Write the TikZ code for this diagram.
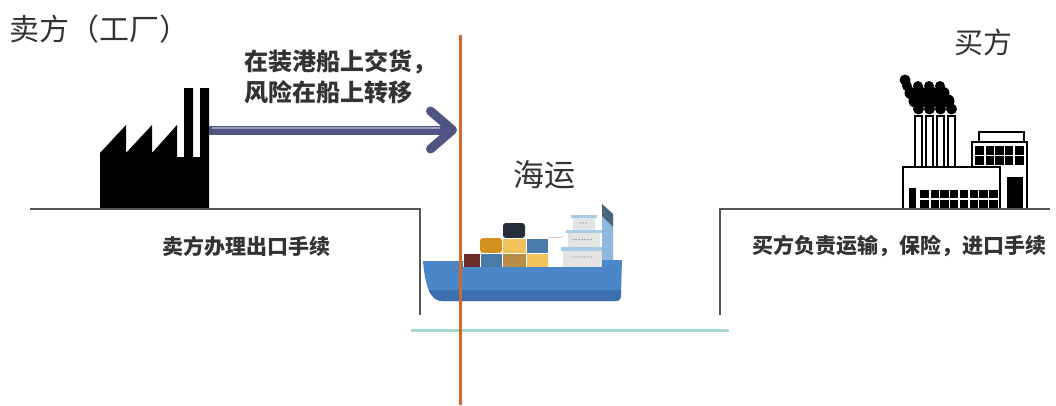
\documentclass[tikz,border=0pt]{standalone}
\usepackage{fontspec}
\newfontfamily\cjk{Noto Sans CJK SC}
\usetikzlibrary{arrows.meta}

\definecolor{inkgray}{HTML}{333333}
\definecolor{groundgray}{HTML}{555555}
\definecolor{riskline}{HTML}{D2692A}
\definecolor{waterline}{HTML}{A6D8D6}
\definecolor{arrowblue}{HTML}{4F5482}
\definecolor{arrowhi}{HTML}{9A9EC2}
\definecolor{hullblue}{HTML}{4A86C8}
\definecolor{hulldark}{HTML}{3D6EAD}
\definecolor{crateRed}{HTML}{6B2E2A}
\definecolor{crateBlue}{HTML}{4A7BA8}
\definecolor{crateTan}{HTML}{B88C46}
\definecolor{crateYellow}{HTML}{F0C35A}
\definecolor{crateOrange}{HTML}{D4901E}
\definecolor{crateNavy}{HTML}{262D3A}
\definecolor{deckgray}{HTML}{E4E4E4}
\definecolor{decklight}{HTML}{A9CCE6}
\definecolor{mastblue}{HTML}{8DB9DF}
\definecolor{mastcap}{HTML}{4A6478}

\tikzset{
  label/.style={inner sep=0pt, text=inkgray},
  crate/.style={draw=white, line width=0.6pt},
  building/.style={draw=black, fill=white, line width=1.8pt},
}

\begin{document}
\begin{tikzpicture}[x=1pt, y=-1pt]
  \useasboundingbox (0,0) rectangle (1056,405);

  % titles and notes
  \node[label, anchor=west, font=\cjk\fontsize{30}{30}\selectfont] (seller) at (9,29) {卖方（工厂）};
  \node[label, font=\cjk\fontsize{29}{29}\selectfont] (buyer) at (983,42) {买方};
  \node[label, anchor=west, align=left, font=\cjk\bfseries\fontsize{24}{31}\selectfont] (fobnote) at (244,77)
       {在装港船上交货，\\风险在船上转移};
  \node[label, font=\cjk\fontsize{31}{31}\selectfont] (sea) at (544,175) {海运};
  \node[label, anchor=west, font=\cjk\bfseries\fontsize{21}{21}\selectfont] (export) at (162,246) {卖方办理出口手续};
  \node[label, anchor=west, font=\cjk\bfseries\fontsize{21}{21}\selectfont] (import) at (752,246) {买方负责运输，保险，进口手续};

  % seller's factory
  \fill[black] (100,209) -- (100,153) -- (126,125) -- (126,153) -- (152,125) -- (152,153)
       -- (177,125) -- (177,157) -- (184,157) -- (184,88) -- (193,88) -- (193,157)
       -- (200,157) -- (200,88) -- (209,88) -- (209,209) -- cycle;

  % buyer's factory
  \foreach \x in {915,926,937,948} {
    \fill[black] (\x+3.5,109) circle (5.5);
    \fill[black] (\x,101) circle (6.5);
    \fill[black] (\x-4.5,93) circle (6);
    \fill[black] (\x-8,86) circle (5);
    \draw[building] (\x,116) rectangle (\x+7,167);
  }
  \fill[black] (905,80) circle (5.5);
  \draw[building] (979,132) rectangle (1024,142);
  \draw[building] (972,142) rectangle (1027,209);
  \fill[black] (975,146) rectangle (1024,165);
  \foreach \x in {984.8,994.6,1004.4,1014.2}
    \draw[white, line width=1.5pt] (\x,146) -- ++(0,19);
  \draw[white, line width=1.5pt] (975,155.5) -- (1024,155.5);
  \fill[black] (1007,177) rectangle (1023,209);
  \draw[building] (903,167) rectangle (1000,209);
  \fill[black] (909,188) rectangle (916,209);
  \fill[black] (920,190) rectangle (998,208);
  \foreach \i in {1,...,7}
    \draw[white, line width=1.5pt] ({920+\i*78/8},190) -- ++(0,18);
  \draw[white, line width=1.5pt] (920,199) -- (998,199);

  % ground and quay walls
  \draw[groundgray, line width=2pt] (30,209) -- (420,209) -- (420,315);
  \draw[groundgray, line width=2pt] (1050,209) -- (720,209) -- (720,315);
  \draw[waterline, line width=3pt] (411,330) -- (729,330);

  % the ship: cargo
  \fill[crateNavy, rounded corners=3pt] (503,238) -- (503,223) -- (525,223) -- (525,238) -- cycle;
  \fill[crateOrange, rounded corners=3pt] (480,253) -- (480,238) -- (502,238) -- (502,253) -- cycle;
  \filldraw[crate, fill=crateYellow] (502,238) rectangle (526,253);
  \filldraw[crate, fill=crateBlue] (526,238) rectangle (548,253);
  \filldraw[crate, fill=crateRed] (463,253) rectangle (480,268);
  \filldraw[crate, fill=crateBlue] (480,253) rectangle (502,268);
  \filldraw[crate, fill=crateTan] (502,253) rectangle (526,268);
  \filldraw[crate, fill=crateYellow] (526,253) rectangle (548,268);
  \draw[gray!60, line width=0.6pt] (548,238) -- (563,237);

  % the ship: bridge and mast
  \fill[deckgray] (563,250) rectangle (602,268);
  \fill[decklight] (561,247) rectangle (604,251);
  \fill[deckgray] (568,233) rectangle (600,247);
  \fill[decklight] (566,230) rectangle (602,233);
  \fill[deckgray] (573,218) rectangle (595,230);
  \fill[decklight] (571,215) rectangle (597,218);
  \foreach \x in {573,576,...,591} {
    \fill[crateNavy!70] (\x,257) circle (0.7);
    \fill[crateNavy!70] (\x,239.5) circle (0.7);
  }
  \foreach \x in {580,583,586} \fill[crateNavy!70] (\x,223) circle (0.7);
  \fill[mastblue] (602,262) -- (602,204) -- (613,214) -- (613,262) -- cycle;
  \fill[mastcap] (602,204) -- (613,214) -- (613,227) -- (602,216) -- cycle;

  % the ship: hull, raised at bow and stern
  \begin{scope}
    \clip (423,261) .. controls (425,285) and (430,301) .. (442,301) -- (616,301)
         .. controls (620,301) and (621,298) .. (621,294) -- (622,260) -- (602,260)
         -- (602,267) -- (463,267) -- (463,261) -- cycle;
    \fill[hullblue] (420,255) rectangle (625,305);
    \fill[hulldark] (420,290) rectangle (625,305);
  \end{scope}

  % risk passes at the ship's rail
  \coordinate (riskTop) at (460,35);
  \coordinate (riskBottom) at (460,405);
  \coordinate (factoryOut) at (209,130);
  \coordinate (railPoint) at (460,130);
  \draw[riskline, line width=3pt] (riskTop) -- (riskBottom);
  \draw[arrowblue, line width=9pt, shorten >=3pt,
        -{Straight Barb[length=22pt, width=38pt, round]}] (factoryOut) -- (railPoint);
  \draw[arrowhi, line width=2pt] (212,128) -- (440,128);
\end{tikzpicture}
\end{document}
